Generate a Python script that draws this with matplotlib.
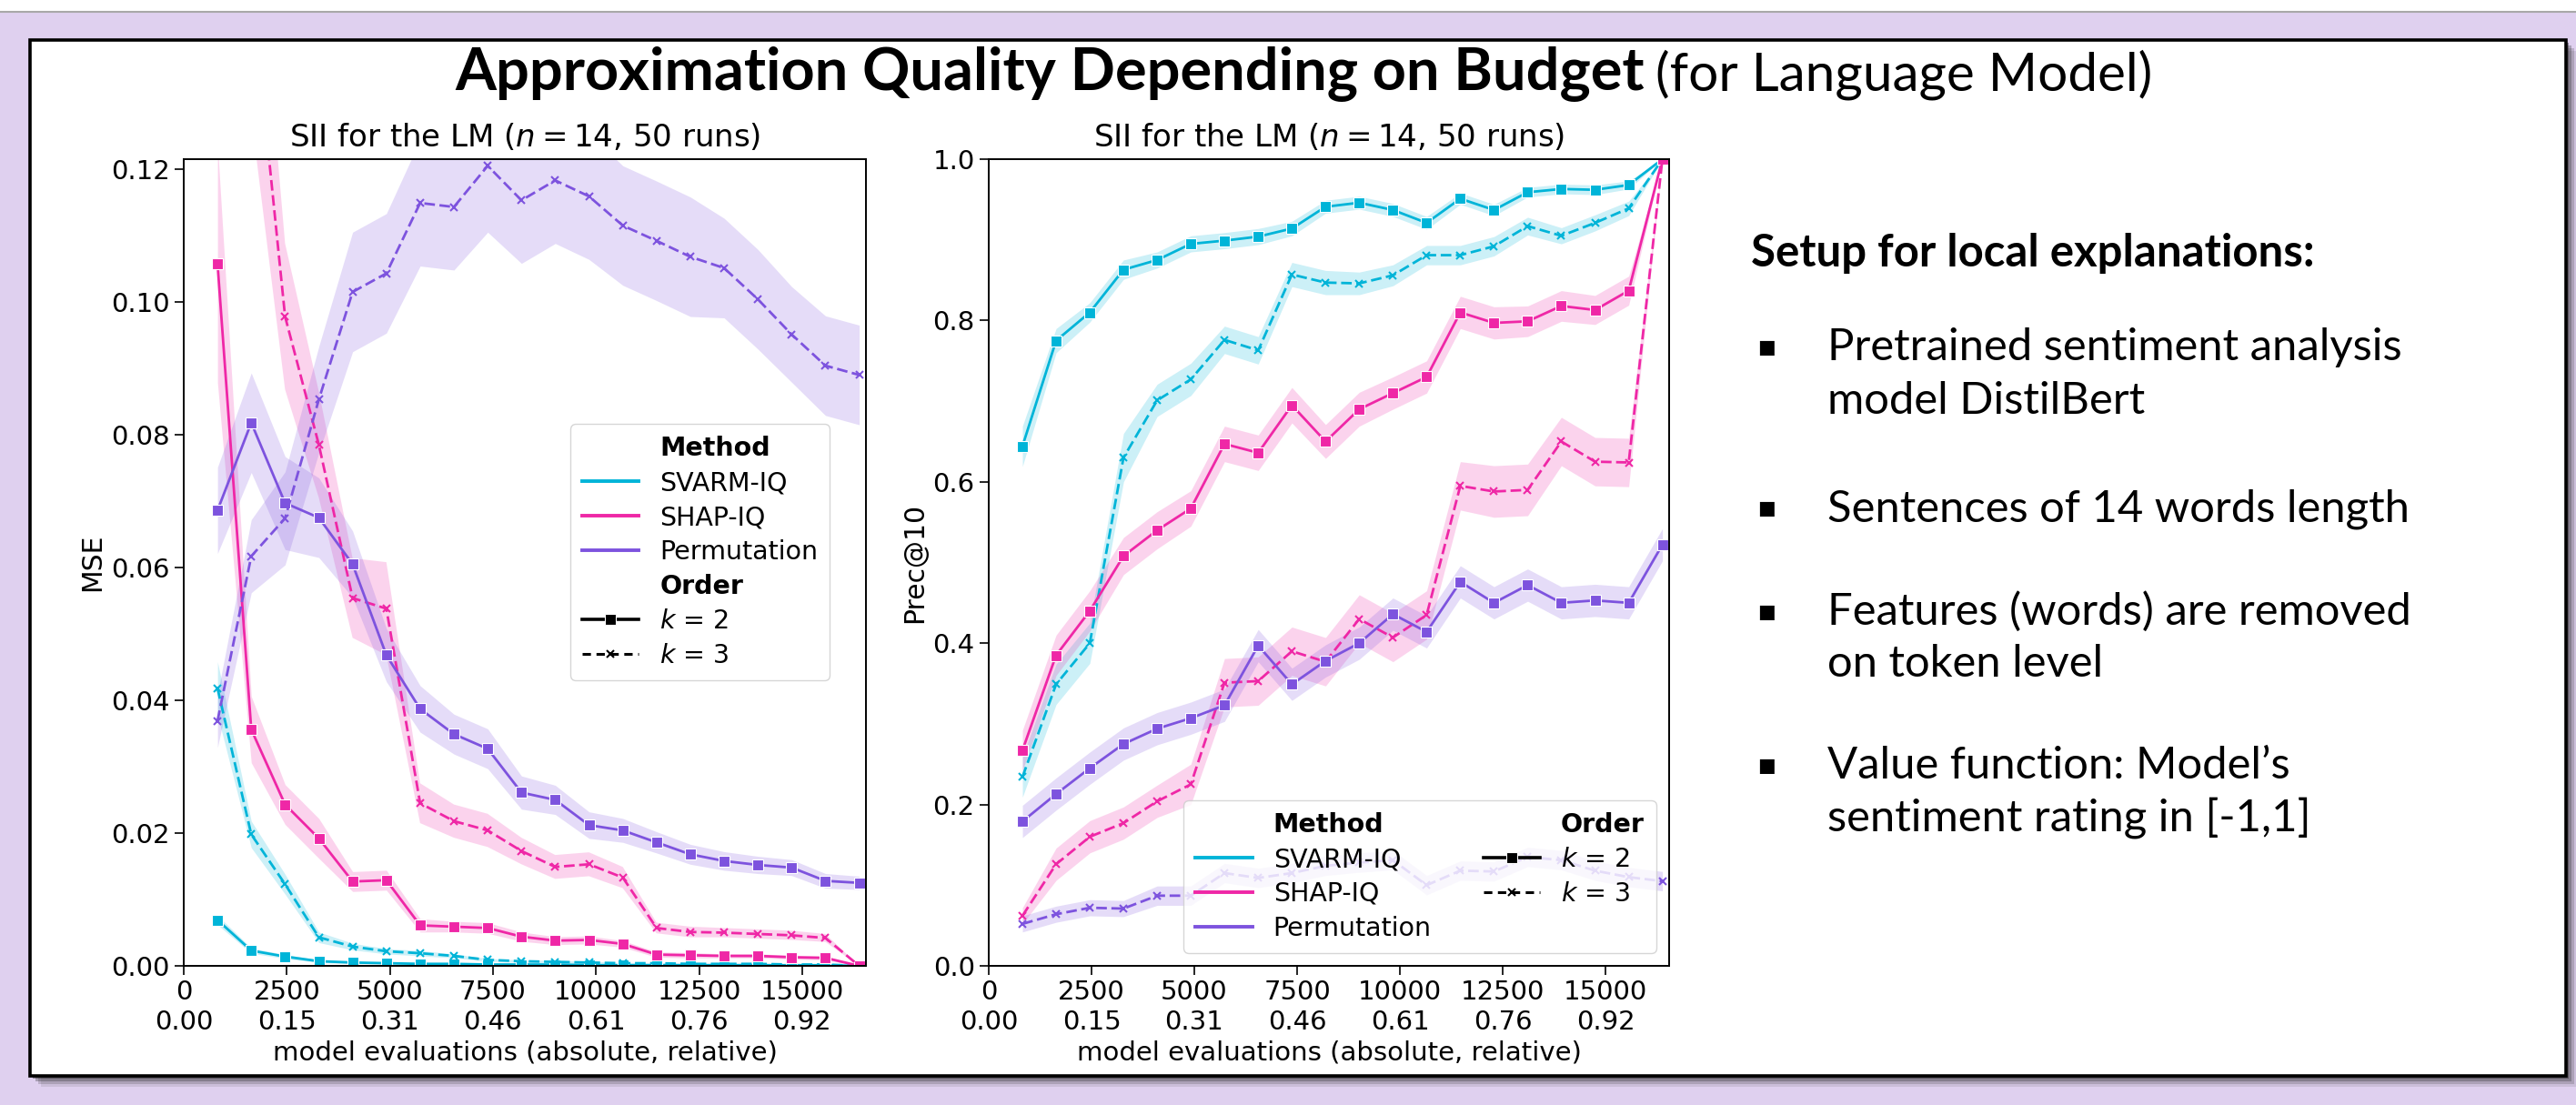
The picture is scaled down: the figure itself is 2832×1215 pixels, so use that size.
import matplotlib
matplotlib.use("Agg")
import matplotlib.pyplot as plt
from matplotlib.patches import Rectangle
from matplotlib.lines import Line2D
import numpy as np

# ---------------- data ----------------
budgets = [819, 1638, 2458, 3277, 4096, 4915, 5734, 6554, 7373, 8192,
           9011, 9830, 10650, 11469, 12288, 13107, 13926, 14746, 15565, 16384]
n_total = 16384
methods = ["SVARM-IQ", "SHAP-IQ", "Permutation"]
orders = [2, 3]
xtick_abs = [0, 2500, 5000, 7500, 10000, 12500, 15000]
xtick_rel = ["0.00", "0.15", "0.31", "0.46", "0.61", "0.76", "0.92"]
mse_yticks = [0.00, 0.02, 0.04, 0.06, 0.08, 0.10, 0.12]
prec_yticks = [0.0, 0.2, 0.4, 0.6, 0.8, 1.0]

# MSE (left)
mse_svarm_k2 = [0.0069, 0.0023, 0.0014, 0.0007, 0.0005, 0.0004, 0.0003, 0.0003, 0.0002, 0.0002,
                0.0002, 0.0001, 0.0001, 0.0001, 0.0001, 0.0001, 0.0001, 0.0001, 0.0001, 0.0]
mse_svarm_k3 = [0.0418, 0.0198, 0.0123, 0.0043, 0.0029, 0.0022, 0.0019, 0.0015, 0.0009, 0.0007,
                0.0006, 0.0005, 0.0004, 0.0004, 0.0003, 0.0003, 0.0003, 0.0002, 0.0002, 0.0]
mse_shap_k2 = [0.1058, 0.0356, 0.0243, 0.0192, 0.0127, 0.0129, 0.0061, 0.0059, 0.0057, 0.0044,
               0.0038, 0.0039, 0.0033, 0.0017, 0.0016, 0.0015, 0.0015, 0.0013, 0.0012, 0.0]
mse_shap_k3 = [0.26, 0.148, 0.0978, 0.0785, 0.0554, 0.0538, 0.0245, 0.0218, 0.0204, 0.0173,
               0.0149, 0.0153, 0.0133, 0.0057, 0.0051, 0.0050, 0.0048, 0.0046, 0.0042, 0.0]
mse_perm_k2 = [0.0686, 0.0818, 0.0697, 0.0675, 0.0605, 0.0468, 0.0387, 0.0349, 0.0327, 0.0261,
               0.0250, 0.0212, 0.0204, 0.0186, 0.0168, 0.0158, 0.0152, 0.0148, 0.0128, 0.0125]
mse_perm_k3 = [0.0369, 0.0617, 0.0674, 0.0853, 0.1015, 0.1043, 0.1149, 0.1143, 0.1205, 0.1153,
               0.1183, 0.1159, 0.1115, 0.1092, 0.1068, 0.1051, 0.1004, 0.0951, 0.0904, 0.0890]
# half widths of the confidence bands
mse_svarm_k2_ci = [0.0007, 0.0004, 0.0003, 0.0002, 0.0002, 0.0001, 0.0001, 0.0001, 0.0001, 0.0001,
                   0.0001, 0.0001, 0.0001, 0.0001, 0.0001, 0.0001, 0.0001, 0.0001, 0.0001, 0.0]
mse_svarm_k3_ci = [0.004, 0.002, 0.0015, 0.0008, 0.0005, 0.0004, 0.0004, 0.0003, 0.0002, 0.0002,
                   0.0002, 0.0002, 0.0001, 0.0001, 0.0001, 0.0001, 0.0001, 0.0001, 0.0001, 0.0]
mse_shap_k2_ci = [0.018, 0.005, 0.003, 0.003, 0.0015, 0.0015, 0.001, 0.0008, 0.0008, 0.0007,
                  0.0006, 0.0006, 0.0005, 0.0004, 0.0004, 0.0003, 0.0003, 0.0003, 0.0003, 0.0]
mse_shap_k3_ci = [0.04, 0.02, 0.011, 0.008, 0.006, 0.007, 0.003, 0.0025, 0.0025, 0.002,
                  0.0018, 0.0018, 0.0016, 0.0008, 0.0008, 0.0007, 0.0007, 0.0007, 0.0006, 0.0]
mse_perm_k2_ci = [0.0065, 0.0075, 0.007, 0.006, 0.005, 0.004, 0.0035, 0.003, 0.003, 0.0025,
                  0.0022, 0.002, 0.0018, 0.0016, 0.0015, 0.0014, 0.0013, 0.0012, 0.0011, 0.001]
mse_perm_k3_ci = [0.004, 0.0055, 0.007, 0.008, 0.009, 0.009, 0.0095, 0.0095, 0.010, 0.0095,
                  0.0095, 0.0095, 0.009, 0.009, 0.009, 0.0075, 0.0075, 0.0072, 0.0075, 0.0075]

# Prec@10 (right)
p10_svarm_k2 = [0.644, 0.775, 0.810, 0.863, 0.875, 0.895, 0.899, 0.904, 0.914, 0.941,
                0.946, 0.937, 0.921, 0.951, 0.937, 0.959, 0.963, 0.962, 0.968, 1.0]
p10_svarm_k3 = [0.234, 0.349, 0.400, 0.630, 0.701, 0.727, 0.776, 0.763, 0.857, 0.847,
                0.846, 0.856, 0.881, 0.881, 0.892, 0.917, 0.905, 0.921, 0.939, 1.0]
p10_shap_k2 = [0.267, 0.385, 0.440, 0.508, 0.540, 0.567, 0.647, 0.636, 0.695, 0.650,
               0.690, 0.710, 0.730, 0.810, 0.797, 0.799, 0.818, 0.813, 0.837, 1.0]
p10_shap_k3 = [0.062, 0.126, 0.160, 0.177, 0.204, 0.225, 0.351, 0.353, 0.390, 0.377,
               0.430, 0.407, 0.435, 0.595, 0.588, 0.590, 0.650, 0.625, 0.624, 1.0]
p10_perm_k2 = [0.179, 0.213, 0.245, 0.275, 0.294, 0.307, 0.323, 0.397, 0.349, 0.378,
               0.400, 0.436, 0.414, 0.476, 0.450, 0.472, 0.450, 0.453, 0.450, 0.522]
p10_perm_k3 = [0.052, 0.064, 0.072, 0.071, 0.087, 0.087, 0.115, 0.109, 0.115, 0.124,
               0.128, 0.131, 0.100, 0.118, 0.117, 0.135, 0.131, 0.118, 0.110, 0.105]
p10_svarm_k2_ci = [0.025, 0.015, 0.012, 0.012, 0.01, 0.01, 0.01, 0.01, 0.009, 0.008,
                   0.008, 0.008, 0.008, 0.007, 0.007, 0.006, 0.006, 0.006, 0.005, 0.0]
p10_svarm_k3_ci = [0.025, 0.025, 0.025, 0.03, 0.02, 0.02, 0.017, 0.017, 0.015, 0.015,
                   0.014, 0.013, 0.012, 0.012, 0.012, 0.011, 0.01, 0.01, 0.009, 0.0]
p10_shap_k2_ci = [0.025, 0.025, 0.025, 0.023, 0.023, 0.022, 0.022, 0.022, 0.022, 0.021,
                  0.021, 0.02, 0.02, 0.02, 0.02, 0.019, 0.019, 0.018, 0.018, 0.0]
p10_shap_k3_ci = [0.01, 0.02, 0.02, 0.02, 0.02, 0.025, 0.03, 0.03, 0.03, 0.03,
                  0.03, 0.03, 0.03, 0.03, 0.032, 0.032, 0.03, 0.03, 0.03, 0.0]
p10_perm_k2_ci = [0.02, 0.02, 0.02, 0.02, 0.02, 0.02, 0.02, 0.02, 0.02, 0.02,
                  0.02, 0.02, 0.02, 0.02, 0.02, 0.02, 0.02, 0.02, 0.02, 0.02]
p10_perm_k3_ci = [0.01, 0.01, 0.01, 0.01, 0.012, 0.012, 0.012, 0.012, 0.012, 0.012,
                  0.012, 0.012, 0.012, 0.012, 0.012, 0.012, 0.012, 0.012, 0.012, 0.012]

main_title_bold = "Approximation Quality Depending on Budget"
main_title_rest = "(for Language Model)"
sub_title = "SII for the LM ($n = 14$, 50 runs)"
xlabel = "model evaluations (absolute, relative)"
setup_heading = "Setup for local explanations:"
bullets = [["Pretrained sentiment analysis", "model DistilBert"],
           ["Sentences of 14 words length"],
           ["Features (words) are removed", "on token level"],
           ["Value function: Model\u2019s", "sentiment rating in [-1,1]"]]

# ---------------- style ----------------
W, H = 2832, 1215
LAV = "#dfd0ef"
COLORS = {"SVARM-IQ": "#00b4d8", "SHAP-IQ": "#ef27a6", "Permutation": "#7d53de"}
FS = 20.5
LW = 2.0
DASH = (0, (4.2, 1.8))
MS_SQ = 8.5
MS_X = 6.3

plt.rcParams["font.family"] = ["DejaVu Sans"]
plt.rcParams["mathtext.fontset"] = "dejavusans"

fig = plt.figure(figsize=(W / 100, H / 100), dpi=100)
fig.patch.set_facecolor(LAV)


def fx(px):
    return px / W


def fy(py):
    return 1 - py / H


def frect(x0, y0, x1, y1, **kw):
    r = Rectangle((fx(x0), fy(y1)), (x1 - x0) / W, (y1 - y0) / H,
                  transform=fig.transFigure, **kw)
    fig.add_artist(r)
    return r


# background frame
frect(0, 0, W, 13, fc="white", ec="none", zorder=-20)
fig.add_artist(Line2D([0, 1], [fy(13), fy(13)], transform=fig.transFigure,
                      color="#a8a8a8", lw=1.5, zorder=-19))
PX0, PY0, PX1, PY1 = 33, 44, 2821, 1183
for off, a in [(12, 0.10), (9, 0.18), (6, 0.28), (3, 0.4)]:
    frect(PX0 + off, PY0 + off, PX1 + off, PY1 + off, fc="#202020", ec="none",
          alpha=a, zorder=-15)
frect(PX0, PY0, PX1, PY1, fc="white", ec="black", lw=2.6, zorder=-10)

# axes
AX_TOP, AX_BOT = 175, 1062
ax1 = fig.add_axes([fx(202), fy(AX_BOT), 750 / W, (AX_BOT - AX_TOP) / H])
ax2 = fig.add_axes([fx(1087), fy(AX_BOT), 748 / W, (AX_BOT - AX_TOP) / H])

mse = {("SVARM-IQ", 2): (mse_svarm_k2, mse_svarm_k2_ci), ("SVARM-IQ", 3): (mse_svarm_k3, mse_svarm_k3_ci),
       ("SHAP-IQ", 2): (mse_shap_k2, mse_shap_k2_ci), ("SHAP-IQ", 3): (mse_shap_k3, mse_shap_k3_ci),
       ("Permutation", 2): (mse_perm_k2, mse_perm_k2_ci), ("Permutation", 3): (mse_perm_k3, mse_perm_k3_ci)}
prec = {("SVARM-IQ", 2): (p10_svarm_k2, p10_svarm_k2_ci), ("SVARM-IQ", 3): (p10_svarm_k3, p10_svarm_k3_ci),
        ("SHAP-IQ", 2): (p10_shap_k2, p10_shap_k2_ci), ("SHAP-IQ", 3): (p10_shap_k3, p10_shap_k3_ci),
        ("Permutation", 2): (p10_perm_k2, p10_perm_k2_ci), ("Permutation", 3): (p10_perm_k3, p10_perm_k3_ci)}


def draw(ax, data):
    x = np.array(budgets, dtype=float)
    for m in methods:
        for k in orders:
            y, ci = data[(m, k)]
            y = np.array(y)
            ci = np.array(ci)
            c = COLORS[m]
            ax.fill_between(x, y - ci, y + ci, color=c, alpha=0.2, lw=0)
            if k == 2:
                ax.plot(x, y, color=c, lw=LW, marker="s", ms=MS_SQ, mec="white", mew=0.8)
            else:
                ax.plot(x, y, color=c, lw=LW, ls=DASH, marker="x", ms=MS_X, mew=1.5)


draw(ax1, mse)
draw(ax2, prec)

for ax in (ax1, ax2):
    ax.set_xlim(0, n_total * 1.01)
    ax.set_xticks(xtick_abs)
    ax.set_xticklabels([f"{a}\n{r}" for a, r in zip(xtick_abs, xtick_rel)])
    ax.tick_params(labelsize=FS + 0.5, length=7, width=1.2, pad=4)
    ax.set_title(sub_title, fontsize=24.5, pad=10)
    ax.set_xlabel(xlabel, fontsize=FS + 0.5, labelpad=4)
    for s in ax.spines.values():
        s.set_linewidth(1.4)

ax1.set_ylim(0, 0.1215)
ax1.set_yticks(mse_yticks)
ax1.set_yticklabels([f"{v:.2f}" for v in mse_yticks])
ax1.set_ylabel("MSE", fontsize=FS + 1)
ax2.set_ylim(0, 1.0)
ax2.set_yticks(prec_yticks)
ax2.set_yticklabels([f"{v:.1f}" for v in prec_yticks])
ax2.set_ylabel("Prec@10", fontsize=FS + 1)


def legend_handles():
    h = [Line2D([], [], alpha=0, label="Method")]
    for m in methods:
        h.append(Line2D([], [], color=COLORS[m], lw=LW * 1.4, label=m))
    h.append(Line2D([], [], alpha=0, label="Order"))
    h.append(Line2D([], [], color="black", lw=LW * 1.3, marker="s", ms=MS_SQ, mec="white",
                    mew=0.8, label="$k$ = 2"))
    h.append(Line2D([], [], color="black", lw=LW * 1.1, ls=(0, (3, 2)), marker="x", ms=MS_X,
                    mew=1.5, label="$k$ = 3"))
    return h


leg_specs = [
    (ax1, dict(loc="center right", ncol=1, bbox_to_anchor=(fx(912), fy(607)),
               bbox_transform=fig.transFigure, borderaxespad=0)),
    (ax2, dict(loc="lower right", ncol=2)),
]
for ax, kw in leg_specs:
    leg = ax.legend(handles=legend_handles(), fontsize=FS, handlelength=2.2,
                    labelspacing=0.35, borderpad=0.45, **kw)
    for t in leg.get_texts():
        if t.get_text() in ("Method", "Order"):
            t.set_fontweight("bold")

# ---------------- slide texts ----------------
r = fig.canvas.get_renderer()
TF = ["Lato", "DejaVu Sans"]


def fitted(x, y, s, width, **kw):
    t = fig.text(fx(x), fy(y), s, fontfamily=TF, fontsize=40, va="baseline", ha="left", **kw)
    t.set_fontsize(40 * width / t.get_window_extent(r).width)
    return t


TITLE_BASE = 99
fitted(500, TITLE_BASE, main_title_bold, 1306, fontweight="bold")
fitted(1820, TITLE_BASE, main_title_rest, 546)

fitted(1925, 293, setup_heading, 618, fontweight="bold")

probe = fig.text(0, 0, bullets[0][0], fontfamily=TF, fontsize=30)
BF = 30 * 632 / probe.get_window_extent(r).width
probe.remove()

baselines = [[396, 455], [573], [687, 744], [856, 914]]
for lines, bls in zip(bullets, baselines):
    fig.text(fx(1942), fy(bls[0] - 14), "\u25A0", fontfamily=["DejaVu Sans"], fontsize=15,
             va="center", ha="center")
    for s, b in zip(lines, bls):
        fig.text(fx(2009), fy(b), s, fontfamily=TF, fontsize=BF, va="baseline", ha="left")

fig.savefig("out.png", dpi=100, facecolor=fig.get_facecolor())
